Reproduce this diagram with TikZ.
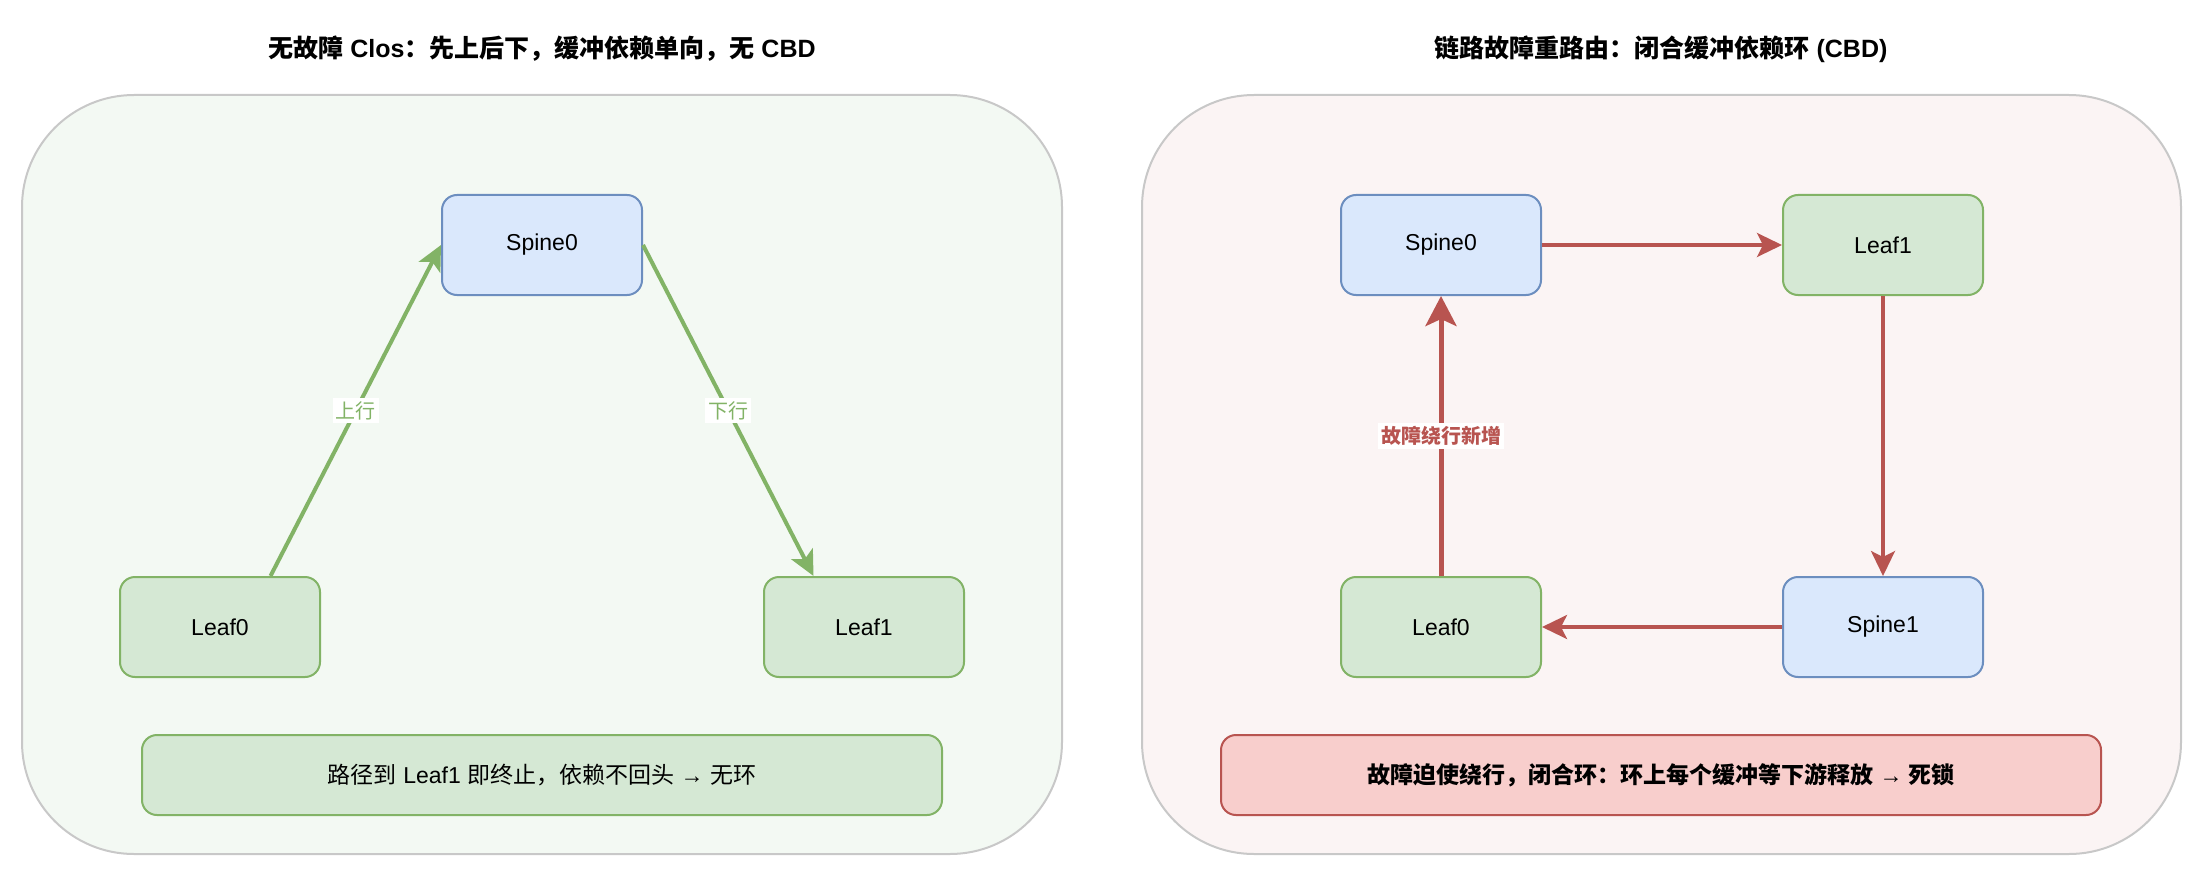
\documentclass[tikz,border=0pt]{standalone}
\usepackage{fontspec}
\setmainfont{Liberation Sans}
\newfontfamily\cjk{Noto Sans CJK SC}
\usepackage{tikz}
\usetikzlibrary{calc, positioning, arrows.meta}
\usepackage{xcolor}
\definecolor{leafFill}{HTML}{D5E8D4}
\definecolor{leafLine}{HTML}{82B366}
\definecolor{spineFill}{HTML}{DAE8FC}
\definecolor{spineLine}{HTML}{6C8EBF}
\definecolor{cbdFill}{HTML}{F8CECC}
\definecolor{cbdLine}{HTML}{B85450}
\definecolor{okBg}{HTML}{F3F9F3}
\definecolor{badBg}{HTML}{FBF4F4}
\definecolor{panelLine}{HTML}{C8C8C8}

\begin{document}
\begin{tikzpicture}[
  x=1pt, y=1pt,
  panel/.style={draw=panelLine, line width=2pt, rounded corners=112pt},
  title/.style={font=\bfseries\fontsize{25}{30}\selectfont},
  switch/.style={draw, rounded corners=15pt, line width=2pt,
                 minimum width=200pt, minimum height=100pt,
                 font=\fontsize{23}{28}\selectfont},
  spine/.style={switch, fill=spineFill, draw=spineLine},
  leaf/.style={switch, fill=leafFill, draw=leafLine},
  note/.style={draw, rounded corners=15pt, line width=2pt,
               minimum height=80pt, font=\fontsize{23}{28}\selectfont},
  tag/.style={fill=white, inner sep=3pt, font=\fontsize{20}{24}\selectfont},
  hop/.style={-{Stealth[length=25pt, width=24pt, inset=6pt]},
              line width=4pt, leafLine},
  loop/.style={-{Stealth[length=25pt, width=24pt, inset=6pt]},
               line width=3.3pt, cbdLine},
  detour/.style={-{Stealth[length=30pt, width=31pt, inset=7pt]},
                 line width=5pt, cbdLine}
]
  \useasboundingbox (0,0) rectangle (2195,-869);

  % left: healthy Clos
  \draw[panel, fill=okBg] (22,-95) rectangle (1062,-854);
  \node[title] (titleL) at (542,-49)
    {{\cjk 无故障} Clos{\cjk ：先上后下，缓冲依赖单向，无} CBD};
  \node[spine] (sp0L) at (542,-245) {Spine0};
  \node[leaf, below left=280pt and 120pt of sp0L] (lf0L) {Leaf0};
  \node[leaf, below right=280pt and 120pt of sp0L] (lf1L) {Leaf1};
  \node[note, fill=leafFill, draw=leafLine, minimum width=800pt] (noteL)
    at (542,-775)
    {{\cjk 路径到} Leaf1 {\cjk 即终止，依赖不回头} → {\cjk 无环}};
  \draw[hop] ($(lf0L.north)!0.5!(lf0L.north east)$) -- (sp0L.west)
    node[midway, tag, text=leafLine]{\cjk 上行};
  \draw[hop] (sp0L.east) -- ($(lf1L.north west)!0.5!(lf1L.north)$)
    node[midway, tag, text=leafLine]{\cjk 下行};

  % right: reroute closes the loop
  \draw[panel, fill=badBg] (1142,-95) rectangle (2181,-854);
  \node[title] (titleR) at (1661,-49)
    {{\cjk 链路故障重路由：闭合缓冲依赖环} (CBD)};
  \node[spine] (sp0R) at (1441,-245) {Spine0};
  \node[leaf, right=240pt of sp0R] (lf1R) {Leaf1};
  \node[leaf, below=280pt of sp0R] (lf0R) {Leaf0};
  \node[spine, below=280pt of lf1R] (sp1R) {Spine1};
  \node[note, fill=cbdFill, draw=cbdLine, minimum width=880pt,
        font=\bfseries\fontsize{23}{28}\selectfont] (noteR) at (1661,-775)
    {{\cjk 故障迫使绕行，闭合环：环上每个缓冲等下游释放} → {\cjk 死锁}};
  \draw[loop] (sp0R) -- (lf1R);
  \draw[loop] (lf1R) -- (sp1R);
  \draw[loop] (sp1R) -- (lf0R);
  \draw[detour] (lf0R) -- (sp0R)
    node[midway, tag, text=cbdLine, font=\bfseries\fontsize{20}{24}\selectfont]
    {\cjk 故障绕行新增};
\end{tikzpicture}
\end{document}
